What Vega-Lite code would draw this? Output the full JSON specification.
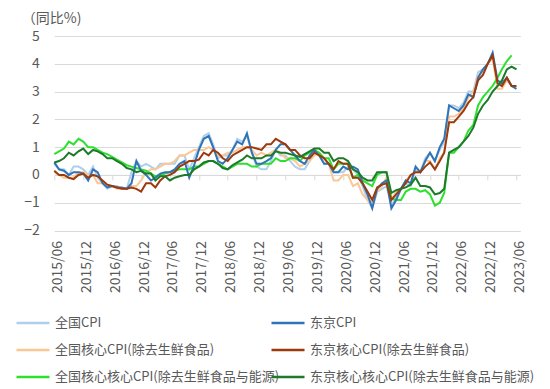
{
  "$schema": "https://vega.github.io/schema/vega-lite/v6.json",
  "width": 466,
  "height": 194.5,
  "autosize": {"type": "none"},
  "padding": {"left": 54.3, "top": 36, "right": 29.7, "bottom": 158.5},
  "background": "white",
  "config": {"view": {"stroke": null}, "font": "Noto Sans CJK SC"},
  "datasets": {
    "names": [
      {"key": "a", "series": "全国CPI"},
      {"key": "b", "series": "全国核心CPI(除去生鲜食品)"},
      {"key": "c", "series": "全国核心核心CPI(除去生鲜食品与能源)"},
      {"key": "d", "series": "东京CPI"},
      {"key": "e", "series": "东京核心CPI(除去生鲜食品)"},
      {"key": "f", "series": "东京核心核心CPI(除去生鲜食品与能源)"}
    ],
    "cpi": [
      {"date": "2015/06/01", "a": 0.4, "b": 0.1, "c": 0.75, "d": 0.45, "e": 0.15, "f": 0.45},
      {"date": "2015/07/01", "a": 0.2, "b": 0.0, "c": 0.85, "d": 0.2, "e": 0.0, "f": 0.5},
      {"date": "2015/08/01", "a": 0.2, "b": -0.1, "c": 0.95, "d": 0.15, "e": 0.0, "f": 0.6},
      {"date": "2015/09/01", "a": 0.0, "b": -0.1, "c": 1.2, "d": 0.0, "e": -0.1, "f": 0.8},
      {"date": "2015/10/01", "a": 0.3, "b": -0.1, "c": 1.1, "d": 0.1, "e": -0.15, "f": 0.7},
      {"date": "2015/11/01", "a": 0.3, "b": 0.1, "c": 1.3, "d": 0.1, "e": 0.0, "f": 0.85},
      {"date": "2015/12/01", "a": 0.2, "b": 0.1, "c": 1.2, "d": 0.05, "e": 0.05, "f": 0.95},
      {"date": "2016/01/01", "a": 0.0, "b": 0.0, "c": 1.0, "d": -0.2, "e": -0.1, "f": 0.75},
      {"date": "2016/02/01", "a": 0.3, "b": 0.0, "c": 1.0, "d": 0.2, "e": 0.0, "f": 0.9},
      {"date": "2016/03/01", "a": -0.1, "b": -0.3, "c": 0.9, "d": 0.1, "e": -0.05, "f": 0.85},
      {"date": "2016/04/01", "a": -0.3, "b": -0.3, "c": 0.8, "d": -0.3, "e": -0.2, "f": 0.75},
      {"date": "2016/05/01", "a": -0.5, "b": -0.4, "c": 0.75, "d": -0.45, "e": -0.35, "f": 0.6},
      {"date": "2016/06/01", "a": -0.4, "b": -0.4, "c": 0.65, "d": -0.4, "e": -0.4, "f": 0.6},
      {"date": "2016/07/01", "a": -0.4, "b": -0.5, "c": 0.55, "d": -0.45, "e": -0.45, "f": 0.5},
      {"date": "2016/08/01", "a": -0.5, "b": -0.5, "c": 0.45, "d": -0.45, "e": -0.5, "f": 0.4},
      {"date": "2016/09/01", "a": -0.5, "b": -0.5, "c": 0.35, "d": -0.5, "e": -0.5, "f": 0.25},
      {"date": "2016/10/01", "a": 0.1, "b": -0.4, "c": 0.3, "d": -0.3, "e": -0.45, "f": 0.2},
      {"date": "2016/11/01", "a": 0.5, "b": -0.4, "c": 0.25, "d": 0.5, "e": -0.5, "f": 0.1},
      {"date": "2016/12/01", "a": 0.3, "b": -0.2, "c": 0.2, "d": 0.15, "e": -0.6, "f": 0.15},
      {"date": "2017/01/01", "a": 0.4, "b": 0.1, "c": 0.15, "d": 0.0, "e": -0.3, "f": 0.05},
      {"date": "2017/02/01", "a": 0.3, "b": 0.2, "c": 0.05, "d": -0.2, "e": -0.3, "f": 0.05},
      {"date": "2017/03/01", "a": 0.2, "b": 0.2, "c": -0.05, "d": -0.1, "e": -0.45, "f": -0.2},
      {"date": "2017/04/01", "a": 0.4, "b": 0.3, "c": 0.0, "d": 0.05, "e": -0.2, "f": -0.05},
      {"date": "2017/05/01", "a": 0.4, "b": 0.4, "c": 0.05, "d": 0.1, "e": -0.05, "f": -0.05},
      {"date": "2017/06/01", "a": 0.4, "b": 0.4, "c": 0.1, "d": 0.1, "e": 0.0, "f": -0.2},
      {"date": "2017/07/01", "a": 0.4, "b": 0.5, "c": 0.15, "d": 0.2, "e": 0.1, "f": -0.1},
      {"date": "2017/08/01", "a": 0.7, "b": 0.7, "c": 0.2, "d": 0.4, "e": 0.3, "f": -0.05},
      {"date": "2017/09/01", "a": 0.7, "b": 0.7, "c": 0.2, "d": 0.5, "e": 0.4, "f": 0.0},
      {"date": "2017/10/01", "a": 0.2, "b": 0.8, "c": 0.2, "d": -0.1, "e": 0.5, "f": 0.0},
      {"date": "2017/11/01", "a": 0.6, "b": 0.9, "c": 0.3, "d": 0.35, "e": 0.5, "f": 0.2},
      {"date": "2017/12/01", "a": 1.0, "b": 0.9, "c": 0.3, "d": 0.9, "e": 0.55, "f": 0.3},
      {"date": "2018/01/01", "a": 1.4, "b": 0.9, "c": 0.4, "d": 1.3, "e": 0.8, "f": 0.45},
      {"date": "2018/02/01", "a": 1.5, "b": 1.0, "c": 0.5, "d": 1.4, "e": 0.7, "f": 0.5},
      {"date": "2018/03/01", "a": 1.1, "b": 0.9, "c": 0.5, "d": 1.0, "e": 0.9, "f": 0.5},
      {"date": "2018/04/01", "a": 0.6, "b": 0.7, "c": 0.4, "d": 0.5, "e": 0.8, "f": 0.4},
      {"date": "2018/05/01", "a": 0.7, "b": 0.7, "c": 0.3, "d": 0.4, "e": 0.6, "f": 0.25},
      {"date": "2018/06/01", "a": 0.7, "b": 0.8, "c": 0.2, "d": 0.6, "e": 0.5, "f": 0.2},
      {"date": "2018/07/01", "a": 0.9, "b": 0.8, "c": 0.3, "d": 0.9, "e": 0.7, "f": 0.35},
      {"date": "2018/08/01", "a": 1.3, "b": 0.9, "c": 0.4, "d": 1.2, "e": 0.8, "f": 0.45},
      {"date": "2018/09/01", "a": 1.2, "b": 1.0, "c": 0.4, "d": 1.1, "e": 0.9, "f": 0.55},
      {"date": "2018/10/01", "a": 1.4, "b": 1.0, "c": 0.4, "d": 1.5, "e": 1.0, "f": 0.7},
      {"date": "2018/11/01", "a": 0.8, "b": 0.9, "c": 0.3, "d": 0.8, "e": 1.0, "f": 0.6},
      {"date": "2018/12/01", "a": 0.3, "b": 0.7, "c": 0.3, "d": 0.4, "e": 0.95, "f": 0.6},
      {"date": "2019/01/01", "a": 0.2, "b": 0.8, "c": 0.4, "d": 0.4, "e": 0.9, "f": 0.6},
      {"date": "2019/02/01", "a": 0.2, "b": 0.7, "c": 0.4, "d": 0.5, "e": 1.1, "f": 0.7},
      {"date": "2019/03/01", "a": 0.5, "b": 0.8, "c": 0.4, "d": 0.6, "e": 1.1, "f": 0.7},
      {"date": "2019/04/01", "a": 0.9, "b": 0.9, "c": 0.6, "d": 0.9, "e": 1.3, "f": 0.85},
      {"date": "2019/05/01", "a": 0.7, "b": 0.8, "c": 0.5, "d": 1.1, "e": 1.2, "f": 0.8},
      {"date": "2019/06/01", "a": 0.7, "b": 0.6, "c": 0.5, "d": 1.1, "e": 1.1, "f": 0.8},
      {"date": "2019/07/01", "a": 0.5, "b": 0.6, "c": 0.6, "d": 0.9, "e": 0.9, "f": 0.75},
      {"date": "2019/08/01", "a": 0.3, "b": 0.5, "c": 0.6, "d": 0.7, "e": 0.9, "f": 0.7},
      {"date": "2019/09/01", "a": 0.2, "b": 0.3, "c": 0.5, "d": 0.5, "e": 0.7, "f": 0.65},
      {"date": "2019/10/01", "a": 0.2, "b": 0.4, "c": 0.7, "d": 0.4, "e": 0.6, "f": 0.75},
      {"date": "2019/11/01", "a": 0.5, "b": 0.5, "c": 0.8, "d": 0.7, "e": 0.6, "f": 0.85},
      {"date": "2019/12/01", "a": 0.8, "b": 0.7, "c": 0.9, "d": 0.9, "e": 0.8, "f": 0.95},
      {"date": "2020/01/01", "a": 0.7, "b": 0.8, "c": 0.8, "d": 0.7, "e": 0.7, "f": 0.95},
      {"date": "2020/02/01", "a": 0.4, "b": 0.6, "c": 0.6, "d": 0.4, "e": 0.6, "f": 0.8},
      {"date": "2020/03/01", "a": 0.4, "b": 0.4, "c": 0.6, "d": 0.4, "e": 0.4, "f": 0.8},
      {"date": "2020/04/01", "a": 0.1, "b": -0.2, "c": 0.2, "d": 0.1, "e": 0.2, "f": 0.5},
      {"date": "2020/05/01", "a": 0.1, "b": -0.2, "c": 0.4, "d": 0.1, "e": 0.5, "f": 0.6},
      {"date": "2020/06/01", "a": 0.1, "b": 0.0, "c": 0.4, "d": 0.3, "e": 0.4, "f": 0.6},
      {"date": "2020/07/01", "a": 0.3, "b": 0.0, "c": 0.4, "d": 0.2, "e": 0.4, "f": 0.5},
      {"date": "2020/08/01", "a": 0.2, "b": -0.4, "c": -0.1, "d": 0.3, "e": -0.1, "f": 0.2},
      {"date": "2020/09/01", "a": 0.0, "b": -0.3, "c": 0.0, "d": 0.2, "e": -0.1, "f": 0.1},
      {"date": "2020/10/01", "a": -0.4, "b": -0.7, "c": -0.2, "d": -0.3, "e": -0.3, "f": -0.1},
      {"date": "2020/11/01", "a": -0.9, "b": -0.9, "c": -0.3, "d": -0.7, "e": -0.6, "f": -0.2},
      {"date": "2020/12/01", "a": -1.2, "b": -1.0, "c": -0.4, "d": -1.2, "e": -0.9, "f": -0.2},
      {"date": "2021/01/01", "a": -0.6, "b": -0.6, "c": 0.0, "d": -0.5, "e": -0.45, "f": 0.1},
      {"date": "2021/02/01", "a": -0.5, "b": -0.4, "c": 0.1, "d": -0.3, "e": -0.35, "f": 0.1},
      {"date": "2021/03/01", "a": -0.4, "b": -0.1, "c": 0.1, "d": -0.2, "e": -0.3, "f": 0.1},
      {"date": "2021/04/01", "a": -1.1, "b": -0.9, "c": -0.85, "d": -1.2, "e": -0.9, "f": -0.65},
      {"date": "2021/05/01", "a": -0.8, "b": -0.6, "c": -0.9, "d": -0.9, "e": -0.7, "f": -0.55},
      {"date": "2021/06/01", "a": -0.5, "b": -0.5, "c": -0.9, "d": -0.5, "e": -0.5, "f": -0.5},
      {"date": "2021/07/01", "a": -0.3, "b": -0.2, "c": -0.6, "d": -0.2, "e": -0.3, "f": -0.45},
      {"date": "2021/08/01", "a": -0.4, "b": 0.0, "c": -0.5, "d": -0.3, "e": 0.0, "f": -0.35},
      {"date": "2021/09/01", "a": 0.2, "b": 0.1, "c": -0.5, "d": 0.3, "e": 0.1, "f": -0.1},
      {"date": "2021/10/01", "a": 0.1, "b": 0.1, "c": -0.6, "d": 0.1, "e": 0.1, "f": -0.4},
      {"date": "2021/11/01", "a": 0.6, "b": 0.5, "c": -0.55, "d": 0.5, "e": 0.3, "f": -0.4},
      {"date": "2021/12/01", "a": 0.8, "b": 0.5, "c": -0.7, "d": 0.8, "e": 0.45, "f": -0.45},
      {"date": "2022/01/01", "a": 0.5, "b": 0.2, "c": -1.1, "d": 0.5, "e": 0.2, "f": -0.7},
      {"date": "2022/02/01", "a": 0.9, "b": 0.6, "c": -1.0, "d": 1.0, "e": 0.5, "f": -0.65},
      {"date": "2022/03/01", "a": 1.2, "b": 0.8, "c": -0.65, "d": 1.3, "e": 0.8, "f": -0.5},
      {"date": "2022/04/01", "a": 2.5, "b": 2.1, "c": 0.8, "d": 2.5, "e": 1.9, "f": 0.8},
      {"date": "2022/05/01", "a": 2.5, "b": 2.1, "c": 0.8, "d": 2.4, "e": 1.9, "f": 0.9},
      {"date": "2022/06/01", "a": 2.4, "b": 2.2, "c": 1.0, "d": 2.3, "e": 2.1, "f": 1.0},
      {"date": "2022/07/01", "a": 2.6, "b": 2.4, "c": 1.2, "d": 2.5, "e": 2.3, "f": 1.2},
      {"date": "2022/08/01", "a": 3.0, "b": 2.8, "c": 1.6, "d": 2.9, "e": 2.6, "f": 1.4},
      {"date": "2022/09/01", "a": 3.0, "b": 3.0, "c": 1.8, "d": 2.8, "e": 2.8, "f": 1.7},
      {"date": "2022/10/01", "a": 3.7, "b": 3.6, "c": 2.5, "d": 3.5, "e": 3.4, "f": 2.2},
      {"date": "2022/11/01", "a": 3.8, "b": 3.7, "c": 2.8, "d": 3.8, "e": 3.6, "f": 2.5},
      {"date": "2022/12/01", "a": 4.0, "b": 4.0, "c": 3.0, "d": 4.0, "e": 4.0, "f": 2.7},
      {"date": "2023/01/01", "a": 4.3, "b": 4.2, "c": 3.2, "d": 4.4, "e": 4.3, "f": 3.0},
      {"date": "2023/02/01", "a": 3.3, "b": 3.1, "c": 3.5, "d": 3.4, "e": 3.3, "f": 3.2},
      {"date": "2023/03/01", "a": 3.2, "b": 3.1, "c": 3.8, "d": 3.3, "e": 3.2, "f": 3.4},
      {"date": "2023/04/01", "a": 3.5, "b": 3.4, "c": 4.1, "d": 3.5, "e": 3.5, "f": 3.8},
      {"date": "2023/05/01", "a": 3.2, "b": 3.2, "c": 4.3, "d": 3.2, "e": 3.2, "f": 3.9},
      {"date": "2023/06/01", "a": null, "b": null, "c": null, "d": 3.1, "e": 3.2, "f": 3.8}
    ]
  },
  "data": {"name": "cpi"},
  "transform": [
    {"fold": ["a", "b", "c", "d", "e", "f"], "as": ["key", "value"]},
    {"lookup": "key", "from": {"data": {"name": "names"}, "key": "key", "fields": ["series"]}}
  ],
  "layer": [
    {
      "mark": {"type": "line", "strokeWidth": 2},
      "encoding": {
        "x": {
          "field": "date", "type": "temporal",
          "scale": {"domain": [{"year": 2015, "month": 6, "date": 1}, {"year": 2023, "month": 6, "date": 25}]},
          "axis": {
            "values": [
              {"year": 2015, "month": 6, "date": 1}, {"year": 2015, "month": 12, "date": 1},
              {"year": 2016, "month": 6, "date": 1}, {"year": 2016, "month": 12, "date": 1},
              {"year": 2017, "month": 6, "date": 1}, {"year": 2017, "month": 12, "date": 1},
              {"year": 2018, "month": 6, "date": 1}, {"year": 2018, "month": 12, "date": 1},
              {"year": 2019, "month": 6, "date": 1}, {"year": 2019, "month": 12, "date": 1},
              {"year": 2020, "month": 6, "date": 1}, {"year": 2020, "month": 12, "date": 1},
              {"year": 2021, "month": 6, "date": 1}, {"year": 2021, "month": 12, "date": 1},
              {"year": 2022, "month": 6, "date": 1}, {"year": 2022, "month": 12, "date": 1},
              {"year": 2023, "month": 6, "date": 1}
            ],
            "format": "%Y/%m",
            "labelAngle": -90,
            "labelFontSize": 14,
            "labelColor": "#595959",
            "labelPadding": 10,
            "labelOffset": 3,
            "labelOverlap": false,
            "labelFlush": false,
            "labelBound": false,
            "domain": false,
            "ticks": false,
            "grid": false,
            "title": null
          }
        },
        "y": {
          "field": "value", "type": "quantitative",
          "scale": {"domain": [-2, 5], "nice": false, "zero": false},
          "axis": {
            "values": [-2, -1, 0, 1, 2, 3, 4, 5],
            "labelFontSize": 14,
            "labelColor": "#595959",
            "labelPadding": 15,
            "domain": false,
            "ticks": false,
            "gridColor": "#D9D9D9",
            "gridWidth": 1,
            "title": "（同比%)",
            "titleAngle": 0,
            "titleAlign": "left",
            "titleBaseline": "middle",
            "titleX": -33,
            "titleY": -18,
            "titleFontSize": 14,
            "titleFontWeight": "normal",
            "titleColor": "#595959"
          }
        },
        "color": {
          "field": "series", "type": "nominal",
          "scale": {
            "domain": ["全国CPI", "东京CPI", "全国核心CPI(除去生鲜食品)", "东京核心CPI(除去生鲜食品)", "全国核心核心CPI(除去生鲜食品与能源)", "东京核心核心CPI(除去生鲜食品与能源)"],
            "range": ["#AFCFEC", "#2F74B7", "#FBC795", "#9C3A0E", "#2DE02D", "#1C7A2A"]
          },
          "legend": {
            "orient": "none",
            "legendX": -28.3,
            "legendY": 280,
            "direction": "horizontal",
            "columns": 2,
            "title": null,
            "symbolType": "M-3,0H3",
            "symbolSize": 121,
            "symbolStrokeWidth": 2.5,
            "labelFontSize": 13,
            "labelColor": "#595959",
            "labelLimit": 400,
            "labelOffset": 15,
            "rowPadding": 13,
            "columnPadding": -14
          }
        }
      }
    },
    {
      "mark": {"type": "point", "opacity": 0},
      "encoding": {
        "x": {
          "field": "date", "type": "temporal",
          "axis": {
            "values": [
              {"year": 2015, "month": 6, "date": 1}, {"year": 2015, "month": 12, "date": 1},
              {"year": 2016, "month": 6, "date": 1}, {"year": 2016, "month": 12, "date": 1},
              {"year": 2017, "month": 6, "date": 1}, {"year": 2017, "month": 12, "date": 1},
              {"year": 2018, "month": 6, "date": 1}, {"year": 2018, "month": 12, "date": 1},
              {"year": 2019, "month": 6, "date": 1}, {"year": 2019, "month": 12, "date": 1},
              {"year": 2020, "month": 6, "date": 1}, {"year": 2020, "month": 12, "date": 1},
              {"year": 2021, "month": 6, "date": 1}, {"year": 2021, "month": 12, "date": 1},
              {"year": 2022, "month": 6, "date": 1}, {"year": 2022, "month": 12, "date": 1},
              {"year": 2023, "month": 6, "date": 1}
            ],
            "orient": "bottom",
            "offset": -55.6,
            "labels": false,
            "domain": true,
            "domainColor": "#D9D9D9",
            "ticks": true,
            "tickColor": "#D9D9D9",
            "tickSize": 5,
            "grid": false,
            "title": null
          }
        }
      }
    }
  ],
  "resolve": {"axis": {"x": "independent"}}
}
